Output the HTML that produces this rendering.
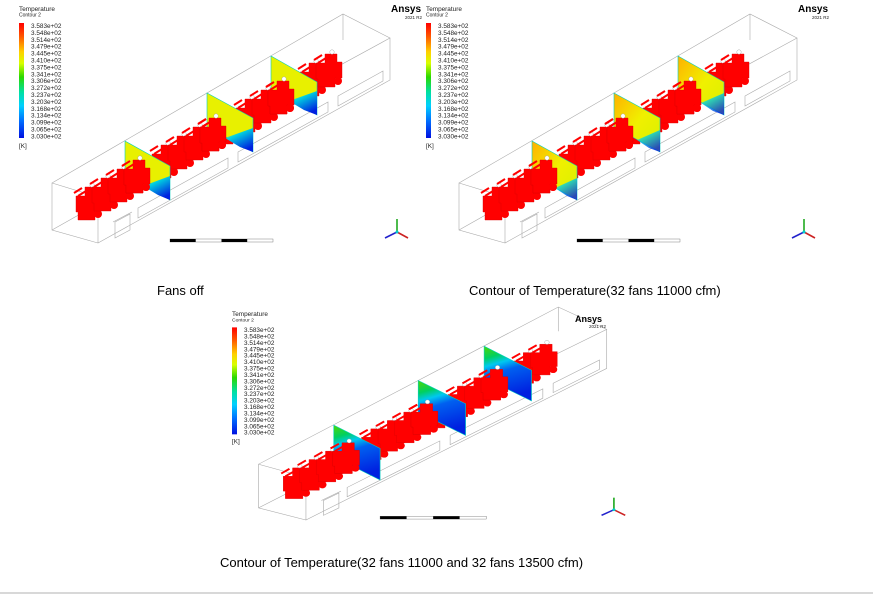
<!DOCTYPE html>
<html><head><meta charset="utf-8"><style>
html,body{margin:0;padding:0;background:#fff;}
svg{display:block;font-family:"Liberation Sans",sans-serif;}
.cap{font-size:13px;fill:#000;}
.lg{font-size:6.4px;fill:#222;}
</style></head><body>
<svg width="873" height="594" viewBox="0 0 873 594" xmlns="http://www.w3.org/2000/svg">
<defs>
<linearGradient id="cb" x1="0" y1="0" x2="0" y2="1">
<stop offset="0" stop-color="#ff0000"/><stop offset="0.12" stop-color="#ff5a00"/><stop offset="0.25" stop-color="#ffd000"/><stop offset="0.35" stop-color="#d8ff00"/><stop offset="0.47" stop-color="#2ad800"/><stop offset="0.6" stop-color="#00e0a0"/><stop offset="0.72" stop-color="#00d0ff"/><stop offset="0.85" stop-color="#0070ff"/><stop offset="1" stop-color="#0010e0"/>
</linearGradient>
<linearGradient id="bl" x1="0" y1="0" x2="0.6" y2="1">
<stop offset="0" stop-color="#60f0a0" stop-opacity="0.3"/><stop offset="0.4" stop-color="#00d0e0"/><stop offset="1" stop-color="#0020e0"/>
</linearGradient>
<linearGradient id="p2" x1="0" y1="0" x2="1" y2="1">
<stop offset="0" stop-color="#ffb000"/><stop offset="0.5" stop-color="#f0f000"/><stop offset="1" stop-color="#d8f000"/>
</linearGradient>
<linearGradient id="p3" x1="0" y1="0" x2="0.25" y2="1">
<stop offset="0" stop-color="#50d800"/><stop offset="0.22" stop-color="#00d060"/><stop offset="0.36" stop-color="#00c8f0"/><stop offset="0.52" stop-color="#0060f0"/><stop offset="1" stop-color="#0020e0"/>
</linearGradient>
<g id="fan">
<path d="M-12,-4 h9 v-9 h12 v8 h5 v16 h-7 v9 h-17 v-8 h-2z" fill="#f00" stroke="#d00" stroke-width="0.4"/>
<circle cx="10" cy="14" r="4" fill="#f00"/>
<path d="M-14,-7 l8,-5 M-10,-4 l8,-5" stroke="#f00" stroke-width="2"/>
<circle cx="4" cy="-15" r="2.2" fill="#fff" stroke="#999" stroke-width="0.4"/>
</g>
<g id="fans">
<use href="#fan" x="88" y="200"/><use href="#fan" x="104" y="191"/><use href="#fan" x="120" y="182"/><use href="#fan" x="136" y="173"/>
<use href="#fan" x="164" y="158"/><use href="#fan" x="180" y="149"/><use href="#fan" x="196" y="140"/><use href="#fan" x="212" y="131"/><use href="#fan" x="226" y="124"/>
<use href="#fan" x="248" y="112"/><use href="#fan" x="264" y="103"/><use href="#fan" x="280" y="94"/>
<use href="#fan" x="312" y="76"/><use href="#fan" x="328" y="67"/>
</g>
<g id="box" fill="none" stroke="#aaa" stroke-width="0.6">
<path d="M52,183 L343,14 L390,38 L98,197 L52,183 L52,230 L98,243 L98,197 M98,243 L390,80 L390,38 M343,14 L343,40 M52,230 L300,90"/>
<path d="M115,222 l15,-8 v16 l-15,8z M113,222 l19,-10 M138,208 l90,-50 v10 l-90,50z M238,152 l90,-50 v10 l-90,50z M338,96 l45,-25 v10 l-45,25z"/>
</g>
<g id="tri">
<path d="M397,232 V219" stroke="#2a2" stroke-width="1.6"/><path d="M397,232 L408,238" stroke="#c22" stroke-width="1.6"/><path d="M397,232 L385,238" stroke="#22c" stroke-width="1.6"/>
<circle cx="397" cy="232" r="1.5" fill="#0cc"/>
</g>
<g id="scale">
<rect x="170" y="239" width="103" height="3" fill="#fff" stroke="#666" stroke-width="0.4"/>
<rect x="170" y="239" width="25.7" height="3" fill="#000"/><rect x="221.5" y="239" width="25.7" height="3" fill="#000"/>
</g>
</defs>

<g>
<use href="#box"/>
<use href="#fans"/>
<polygon points="125,141 170,166 170,200 125,175" fill="#e8f000" stroke="#00d0c0" stroke-width="0.6"/>
<polygon points="143,186 170,176 170,200 158,195" fill="url(#bl)"/>
<polygon points="207,93 253,118 253,152 207,127" fill="#e8f000" stroke="#00d0c0" stroke-width="0.6"/>
<polygon points="225,138 253,128 253,152 240,147" fill="url(#bl)"/>
<polygon points="271,56 317,82 317,115 271,90" fill="#e8f000" stroke="#00d0c0" stroke-width="0.6"/>
<polygon points="289,101 317,91 317,115 304,110" fill="url(#bl)"/>
<use href="#fan" x="136" y="173"/><use href="#fan" x="212" y="131"/><use href="#fan" x="280" y="94"/>
<use href="#tri"/><use href="#scale"/>
</g>
<g class="lg">
<text x="19" y="11">Temperature</text><text x="19" y="16.5" font-size="5">Contour 2</text>
<rect x="19" y="23" width="5" height="115" fill="url(#cb)"/>
<text x="31" y="28">3.583e+02</text><text x="31" y="34.9">3.548e+02</text><text x="31" y="41.8">3.514e+02</text><text x="31" y="48.7">3.479e+02</text><text x="31" y="55.6">3.445e+02</text><text x="31" y="62.5">3.410e+02</text><text x="31" y="69.4">3.375e+02</text><text x="31" y="76.3">3.341e+02</text><text x="31" y="83.2">3.306e+02</text><text x="31" y="90.1">3.272e+02</text><text x="31" y="97">3.237e+02</text><text x="31" y="103.9">3.203e+02</text><text x="31" y="110.8">3.168e+02</text><text x="31" y="117.7">3.134e+02</text><text x="31" y="124.6">3.099e+02</text><text x="31" y="131.5">3.065e+02</text><text x="31" y="138.4">3.030e+02</text>
<text x="19" y="148">[K]</text>
<text x="391" y="12" font-size="10" font-weight="bold" fill="#000">Ansys</text><text x="405" y="19" font-size="4.5">2021 R2</text>
</g>

<g transform="translate(407,0)">
<use href="#box"/>
<use href="#fans"/>
<polygon points="125,141 170,166 170,200 125,175" fill="url(#p2)" stroke="#00d0c0" stroke-width="0.6"/>
<polygon points="148,188 170,178 170,200 160,196" fill="url(#bl)" opacity="0.8"/>
<polygon points="207,93 253,118 253,152 207,127" fill="url(#p2)" stroke="#00d0c0" stroke-width="0.6"/>
<polygon points="230,140 253,130 253,152 242,148" fill="url(#bl)" opacity="0.8"/>
<polygon points="271,56 317,82 317,115 271,90" fill="url(#p2)" stroke="#00d0c0" stroke-width="0.6"/>
<polygon points="294,103 317,93 317,115 306,111" fill="url(#bl)" opacity="0.8"/>
<use href="#fan" x="136" y="173"/><use href="#fan" x="212" y="131"/><use href="#fan" x="280" y="94"/>
<use href="#tri"/><use href="#scale"/>
<g class="lg">
<text x="19" y="11">Temperature</text><text x="19" y="16.5" font-size="5">Contour 2</text>
<rect x="19" y="23" width="5" height="115" fill="url(#cb)"/>
<text x="31" y="28">3.583e+02</text><text x="31" y="34.9">3.548e+02</text><text x="31" y="41.8">3.514e+02</text><text x="31" y="48.7">3.479e+02</text><text x="31" y="55.6">3.445e+02</text><text x="31" y="62.5">3.410e+02</text><text x="31" y="69.4">3.375e+02</text><text x="31" y="76.3">3.341e+02</text><text x="31" y="83.2">3.306e+02</text><text x="31" y="90.1">3.272e+02</text><text x="31" y="97">3.237e+02</text><text x="31" y="103.9">3.203e+02</text><text x="31" y="110.8">3.168e+02</text><text x="31" y="117.7">3.134e+02</text><text x="31" y="124.6">3.099e+02</text><text x="31" y="131.5">3.065e+02</text><text x="31" y="138.4">3.030e+02</text>
<text x="19" y="148">[K]</text>
<text x="391" y="12" font-size="10" font-weight="bold" fill="#000">Ansys</text><text x="405" y="19" font-size="4.5">2021 R2</text>
</g>
</g>

<g transform="translate(205,294) scale(1.03,0.93)">
<use href="#box"/>
<use href="#fans"/>
<polygon points="125,141 170,166 170,200 125,175" fill="url(#p3)" stroke="#00d0c0" stroke-width="0.6"/>
<polygon points="207,93 253,118 253,152 207,127" fill="url(#p3)" stroke="#00d0c0" stroke-width="0.6"/>
<polygon points="271,56 317,82 317,115 271,90" fill="url(#p3)" stroke="#00d0c0" stroke-width="0.6"/>
<use href="#fan" x="136" y="173"/><use href="#fan" x="212" y="131"/><use href="#fan" x="280" y="94"/>
<use href="#tri"/><use href="#scale"/>
</g>
<g class="lg" transform="translate(213,306) scale(1,0.93)">
<text x="19" y="11">Temperature</text><text x="19" y="16.5" font-size="5">Contour 2</text>
<rect x="19" y="23" width="5" height="115" fill="url(#cb)"/>
<text x="31" y="28">3.583e+02</text><text x="31" y="34.9">3.548e+02</text><text x="31" y="41.8">3.514e+02</text><text x="31" y="48.7">3.479e+02</text><text x="31" y="55.6">3.445e+02</text><text x="31" y="62.5">3.410e+02</text><text x="31" y="69.4">3.375e+02</text><text x="31" y="76.3">3.341e+02</text><text x="31" y="83.2">3.306e+02</text><text x="31" y="90.1">3.272e+02</text><text x="31" y="97">3.237e+02</text><text x="31" y="103.9">3.203e+02</text><text x="31" y="110.8">3.168e+02</text><text x="31" y="117.7">3.134e+02</text><text x="31" y="124.6">3.099e+02</text><text x="31" y="131.5">3.065e+02</text><text x="31" y="138.4">3.030e+02</text>
<text x="19" y="148">[K]</text>
</g>
<text x="575" y="322" font-size="9" font-weight="bold">Ansys</text><text x="589" y="328" font-size="4.5" fill="#222">2021 R2</text>

<text class="cap" x="157" y="295">Fans off</text>
<text class="cap" x="469" y="295">Contour of Temperature(32 fans 11000 cfm)</text>
<text class="cap" x="220" y="567">Contour of Temperature(32 fans 11000 and 32 fans 13500 cfm)</text>
<line x1="0" y1="593" x2="873" y2="593" stroke="#ccc" stroke-width="1.5"/>
</svg>
</body></html>
